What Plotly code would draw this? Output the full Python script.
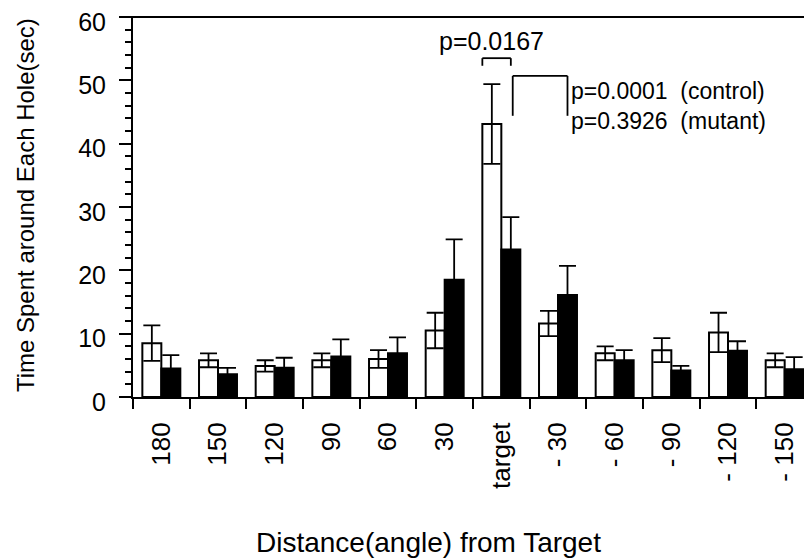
import plotly.graph_objects as go

# ---- data ----
categories = ["180", "150", "120", "90", "60", "30", "target",
              "- 30", "- 60", "- 90", "- 120", "- 150"]
control = [8.5, 5.8, 4.9, 5.8, 6.0, 10.5, 43.1, 11.6, 6.9, 7.4, 10.2, 5.8]
control_err = [2.8, 1.1, 0.9, 1.1, 1.4, 2.8, 6.3, 2.0, 1.1, 1.9, 3.1, 1.1]
mutant = [4.5, 3.6, 4.6, 6.4, 6.9, 18.5, 23.3, 16.1, 5.8, 4.2, 7.3, 4.4]
mutant_err = [2.1, 1.0, 1.6, 2.7, 2.5, 6.4, 5.1, 4.6, 1.6, 0.7, 1.5, 1.9]

y_ticks = [0, 10, 20, 30, 40, 50, 60]
p_target = "p=0.0167"
p_groups = "p=0.0001  (control)<br>p=0.3926  (mutant)"

FONT = "Liberation Sans, Arial, sans-serif"
BARGAP = 0.33
half = (1 - BARGAP) / 2  # width of one bar in category units

# page body has an 8px margin; plot area is placed to compensate
W, H = 812, 560
ML, MR, MT, MB = 125, 7, 9, 171
PW = W - ML - MR

fig = go.Figure()
fig.add_trace(go.Bar(
    x=categories, y=control, name="control",
    marker=dict(color="white", line=dict(color="black", width=2)),
    error_y=dict(type="data", array=control_err, color="black",
                 thickness=1.8, width=8.5),
))
fig.add_trace(go.Bar(
    x=categories, y=mutant, name="mutant",
    marker=dict(color="black", line=dict(color="black", width=2)),
    error_y=dict(type="data", array=mutant_err, color="black",
                 thickness=1.8, width=8.5),
))

ti = categories.index("target")
line_style = dict(color="black", width=1.8)

# bracket between control and mutant at target
b1_x0, b1_x1 = ti - half, ti + half / 2
b1_top, b1_low = 53.5, 52.3
# bracket between target and -30
b2_x0, b2_x1 = ti + half * 0.6, ti + 1 + half / 2
b2_top, b2_low = 50.7, 44.4

shapes = []
for x0, x1, top, low in [(b1_x0, b1_x1, b1_top, b1_low),
                         (b2_x0, b2_x1, b2_top, b2_low)]:
    shapes.append(dict(type="line", xref="x", yref="y", x0=x0, x1=x0, y0=low, y1=top, line=line_style))
    shapes.append(dict(type="line", xref="x", yref="y", x0=x0, x1=x1, y0=top, y1=top, line=line_style))
    shapes.append(dict(type="line", xref="x", yref="y", x0=x1, x1=x1, y0=top, y1=low, line=line_style))

# top border line (extends to the left like a tick)
shapes.append(dict(type="line", xref="paper", yref="paper", x0=-12 / PW, x1=1,
                   y0=1, y1=1, line=dict(color="black", width=2)))

annotations = [
    dict(text=p_target, x=ti - 0.18, y=56.2, xref="x", yref="y",
         showarrow=False, xanchor="center", yanchor="middle",
         font=dict(size=25, family=FONT, color="black")),
    dict(text=p_groups, x=ti + 1.2, y=46.0, xref="x", yref="y",
         showarrow=False, xanchor="left", yanchor="middle", align="left",
         font=dict(size=23, family=FONT, color="black")),
    dict(text="Distance(angle) from Target", x=(420 - ML) / PW, y=-0.3816,
         xref="paper", yref="paper", showarrow=False,
         xanchor="center", yanchor="middle",
         font=dict(size=28, family=FONT, color="black")),
    dict(text="Time Spent around Each Hole(sec)", x=(17 - ML) / PW, y=0.505,
         xref="paper", yref="paper", showarrow=False, textangle=-90,
         xanchor="center", yanchor="middle",
         font=dict(size=24, family=FONT, color="black")),
]

fig.update_layout(
    width=W, height=H,
    margin=dict(l=ML, r=MR, t=MT, b=MB),
    paper_bgcolor="white", plot_bgcolor="white",
    barmode="group", bargap=BARGAP, bargroupgap=0,
    showlegend=False,
    font=dict(family=FONT, color="black"),
    shapes=shapes, annotations=annotations,
    xaxis=dict(
        type="category", range=[-0.5, 11.5], automargin=False,
        showline=True, linecolor="black", linewidth=2,
        ticks="outside", tickson="boundaries", ticklen=10, tickwidth=1.8,
        tickcolor="black", tickangle=-90, ticklabelstandoff=13,
        tickfont=dict(size=26, family=FONT, color="black"),
        showgrid=False, zeroline=False,
    ),
    yaxis=dict(
        range=[0, 60], tickvals=y_ticks, automargin=False,
        showline=True, linecolor="black", linewidth=2,
        ticks="outside", ticklen=12, tickwidth=1.8, tickcolor="black",
        minor=dict(dtick=2, ticks="outside", ticklen=6, tickwidth=1.5,
                   tickcolor="black", showgrid=False),
        tickfont=dict(size=25, family=FONT, color="black"),
        ticklabelstandoff=8, ticklabeloverflow="allow", ticklabelshift=5,
        showgrid=False, zeroline=False,
    ),
)

fig.write_html("out.html")
